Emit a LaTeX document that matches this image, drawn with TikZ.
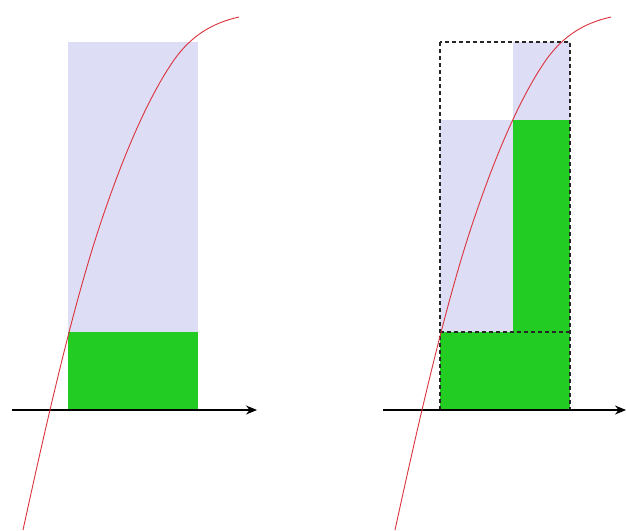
\documentclass[tikz,border=0pt]{standalone}
\usetikzlibrary{arrows.meta}
\definecolor{lightfill}{RGB}{221,221,245}
\definecolor{greenfill}{RGB}{34,204,34}
\definecolor{curvered}{RGB}{220,50,60}
\tikzset{
  lightbox/.style={fill=lightfill,draw=none},
  greenbox/.style={fill=greenfill,draw=none},
  axisline/.style={draw=black,line width=1.1pt,-{Stealth[length=11pt,width=9pt]}},
  dashbox/.style={draw=black!85,line width=1.2pt,dash pattern=on 4pt off 3pt},
  redcurve/.style={draw=curvered,line width=0.9pt}
}
\newcommand{\fcurve}{%
  \draw[redcurve] (23,530) .. controls (48,415) and (74,303) .. (100,225)
    .. controls (124,153) and (149,96) .. (174,60)
    .. controls (191,36) and (212,23) .. (239,17);}
\begin{document}
\begin{tikzpicture}[x=1pt,y=-1pt]
\useasboundingbox (0,0) rectangle (626,530);
% ---- left panel ----
\fill[lightbox] (68,42) rectangle (198,332);
\fill[greenbox] (68,332) rectangle (198,410);
\coordinate (la) at (12,410);
\coordinate (lb) at (257,410);
\draw[axisline] (la) -- (lb);
\fcurve
% ---- right panel ----
\begin{scope}[xshift=372]
\fill[lightbox] (68,120) rectangle (141,332);
\fill[lightbox] (141,42) rectangle (198,120);
\fill[greenbox] (141,120) rectangle (198,332);
\fill[greenbox] (68,332) rectangle (198,410);
\draw[dashbox] (68,42) rectangle (198,410);
\draw[dashbox] (68,332) -- (198,332);
\coordinate (ra) at (11,410);
\coordinate (rb) at (254,410);
\draw[axisline] (ra) -- (rb);
\fcurve
\end{scope}
\end{tikzpicture}
\end{document}
